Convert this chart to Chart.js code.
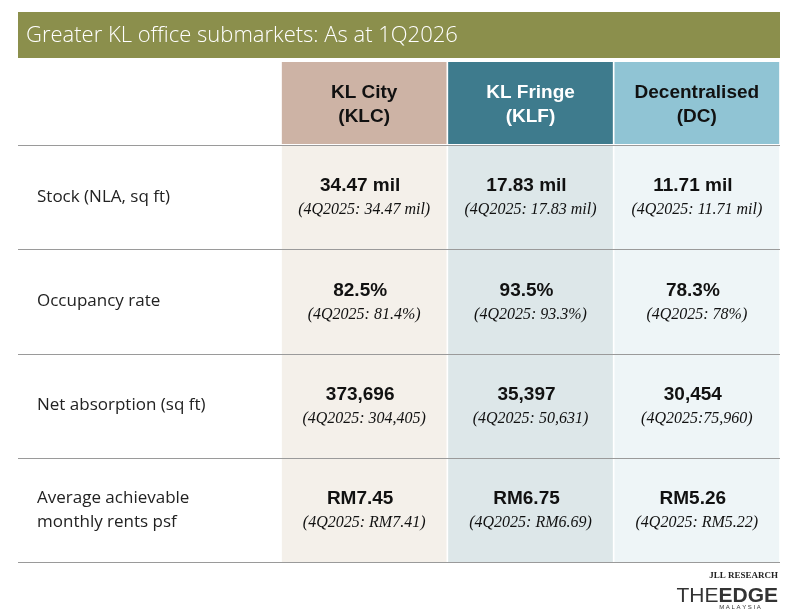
<!DOCTYPE html>
<html><head><meta charset="utf-8">
<script src="https://cdn.jsdelivr.net/npm/chart.js@4/dist/chart.umd.min.js"></script>
<style>html,body{margin:0;padding:0;background:#fff}#w{width:800px;height:612px}</style>
</head><body><div id="w"><canvas id="c"></canvas></div>
<script>
const title = "Greater KL office submarkets: As at 1Q2026";
const columns = ["KL City\n(KLC)", "KL Fringe\n(KLF)", "Decentralised\n(DC)"];
const rowLabels = ["Stock (NLA, sq ft)", "Occupancy rate", "Net absorption (sq ft)", "Average achievable\nmonthly rents psf"];
const klcValues = ["34.47 mil", "82.5%", "373,696", "RM7.45"];
const klcPrev = ["(4Q2025: 34.47 mil)", "(4Q2025: 81.4%)", "(4Q2025: 304,405)", "(4Q2025: RM7.41)"];
const klfValues = ["17.83 mil", "93.5%", "35,397", "RM6.75"];
const klfPrev = ["(4Q2025: 17.83 mil)", "(4Q2025: 93.3%)", "(4Q2025: 50,631)", "(4Q2025: RM6.69)"];
const dcValues = ["11.71 mil", "78.3%", "30,454", "RM5.26"];
const dcPrev = ["(4Q2025: 11.71 mil)", "(4Q2025: 78%)", "(4Q2025:75,960)", "(4Q2025: RM5.22)"];
const source = "JLL RESEARCH";

const headFill = ["#cdb3a5", "#3e7b8d", "#90c4d4"];
const headText = ["#111", "#fff", "#111"];
const bodyFill = ["#f4f0ea", "#dde7e9", "#eef5f7"];
const vals = [klcValues, klfValues, dcValues];
const prevs = [klcPrev, klfPrev, dcPrev];

const tablePlugin = {
  id: 'table',
  afterDraw(chart) {
    const ctx = chart.ctx, x = chart.scales.x, y = chart.scales.y, ca = chart.chartArea;
    const meta = chart.getDatasetMeta(0);
    ctx.save();
    ctx.fillStyle = "#8b8f4c";
    ctx.fillRect(18, 12, 762, 46);
    ctx.fillStyle = "#fff";
    ctx.font = "300 22px 'Open Sans', sans-serif";
    ctx.textBaseline = "middle";
    ctx.textAlign = "left";
    ctx.fillText(title, 26, 36);
    const hTop = 62, hBot = ca.top;
    meta.data.forEach((bar, i) => {
      const l = bar.x - bar.width / 2, r = bar.x + bar.width / 2;
      ctx.fillStyle = headFill[i];
      ctx.fillRect(l, hTop, r - l, hBot - hTop - 1);
      ctx.fillStyle = headText[i];
      ctx.font = "bold 19px 'Liberation Sans', Arial, sans-serif";
      ctx.textAlign = "center";
      const lines = columns[i].split("\n");
      ctx.fillText(lines[0], bar.x, 93);
      ctx.fillText(lines[1], bar.x, 117);
    });
    ctx.strokeStyle = "#9a9a9a";
    ctx.lineWidth = 1.2;
    for (let k = 0; k <= rowLabels.length; k++) {
      const py = Math.round(y.getPixelForValue(k)) + 0.5;
      ctx.beginPath(); ctx.moveTo(18, py); ctx.lineTo(780, py); ctx.stroke();
    }
    rowLabels.forEach((lab, r) => {
      const cy = y.getPixelForValue(r + 0.5);
      ctx.fillStyle = "#222";
      ctx.textAlign = "left";
      ctx.font = "17px 'Open Sans', sans-serif";
      const ls = lab.split("\n");
      ls.forEach((t, j) => ctx.fillText(t, 37, cy + (j - (ls.length - 1) / 2) * 24));
      meta.data.forEach((bar, i) => {
        ctx.textAlign = "center";
        ctx.fillStyle = "#111";
        ctx.font = "bold 19px 'Liberation Sans', Arial, sans-serif";
        ctx.fillText(vals[i][r], bar.x - 4, cy - 11);
        ctx.font = "italic 16px 'Liberation Serif', 'Times New Roman', serif";
        ctx.fillText(prevs[i][r], bar.x, cy + 13);
      });
    });
    ctx.textAlign = "right";
    ctx.fillStyle = "#222";
    ctx.font = "bold 9px 'Liberation Serif', serif";
    ctx.fillText(source, 778, 576);
    ctx.font = "bold 21px 'Liberation Sans', sans-serif";
    ctx.fillStyle = "#333";
    const eW = ctx.measureText("EDGE").width;
    ctx.fillText("EDGE", 778, 596);
    ctx.font = "21px 'Liberation Sans', sans-serif";
    ctx.fillText("THE", 778 - eW, 596);
    ctx.font = "6px 'Liberation Sans', sans-serif";
    ctx.textAlign = "center";
    ctx.fillText("M A L A Y S I A", 740, 607);
    ctx.restore();
  }
};

new Chart(document.getElementById('c'), {
  type: 'bar',
  data: {
    labels: columns,
    datasets: [{
      data: columns.map(() => [0, rowLabels.length]),
      backgroundColor: bodyFill,
      barPercentage: 1,
      categoryPercentage: 0.99
    }]
  },
  options: {
    responsive: true, maintainAspectRatio: false, animation: false,
    layout: { padding: { left: 281, right: 20, top: 145, bottom: 50 } },
    plugins: { legend: { display: false }, tooltip: { enabled: false } },
    scales: {
      x: { display: false },
      y: { display: false, min: 0, max: rowLabels.length, reverse: true }
    }
  },
  plugins: [tablePlugin]
});
</script></body></html>
